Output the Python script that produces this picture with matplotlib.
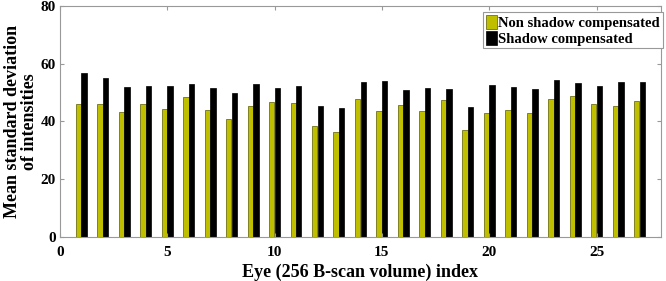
import numpy as np
import matplotlib.pyplot as plt

plt.rcParams['font.family'] = ['Liberation Serif', 'DejaVu Serif']
plt.rcParams['font.weight'] = 'bold'

# eye index 1..27
eyes = np.arange(1, 28)
non_comp = [46.0, 46.0, 43.4, 46.0, 44.4, 48.5, 44.1, 40.9, 45.4, 46.6,
            46.4, 38.4, 36.4, 47.7, 43.7, 45.8, 43.5, 47.5, 36.9, 42.8,
            44.1, 42.8, 47.9, 48.8, 45.9, 45.4, 47.0]
comp = [56.6, 55.2, 52.0, 52.3, 52.3, 52.8, 51.4, 50.0, 52.9, 51.7,
        52.1, 45.2, 44.8, 53.6, 54.0, 51.0, 51.4, 51.1, 45.0, 52.5,
        52.0, 51.1, 54.3, 53.2, 52.3, 53.6, 53.7]
labels = ['Non shadow compensated', 'Shadow compensated']

fig = plt.figure(figsize=(6.66, 2.81), dpi=100)
ax = fig.add_axes([0.0898, 0.1577, 0.9027, 0.8209])

w = 0.25
ax.bar(eyes - 0.13, non_comp, w, color='#bfbf00', edgecolor='#5a5a00',
       linewidth=0.5, label=labels[0])
ax.bar(eyes + 0.13, comp, w, color='black', edgecolor='black',
       linewidth=0.5, label=labels[1])

ax.set_xlim(0, 28)
ax.set_ylim(0, 80)
ax.set_xticks([0, 5, 10, 15, 20, 25])
ax.set_yticks([0, 20, 40, 60, 80])
ax.tick_params(direction='in', top=True, right=True, length=3,
               color='#999999', labelsize=11, pad=3)
ax.tick_params(axis='x', pad=7)
for s in ax.spines.values():
    s.set_color('#999999')
    s.set_linewidth(0.8)

ax.set_xlabel('Eye (256 B-scan volume) index', fontsize=13, fontweight='bold', labelpad=3)
ax.set_ylabel('Mean standard deviation\nof intensities', fontsize=13,
              fontweight='bold', labelpad=2, linespacing=1.0)

leg = ax.legend(loc='upper right', bbox_to_anchor=(663 / 666, 1 - 12 / 281),
                bbox_transform=fig.transFigure, borderaxespad=0,
                fontsize=10.5, handlelength=0.75, handleheight=1.1,
                handletextpad=0.1, labelspacing=0.05, borderpad=0.2,
                fancybox=False, framealpha=1)
leg.get_frame().set_edgecolor('#999999')
leg.get_frame().set_linewidth(0.8)

fig.savefig('out.png', dpi=100)
